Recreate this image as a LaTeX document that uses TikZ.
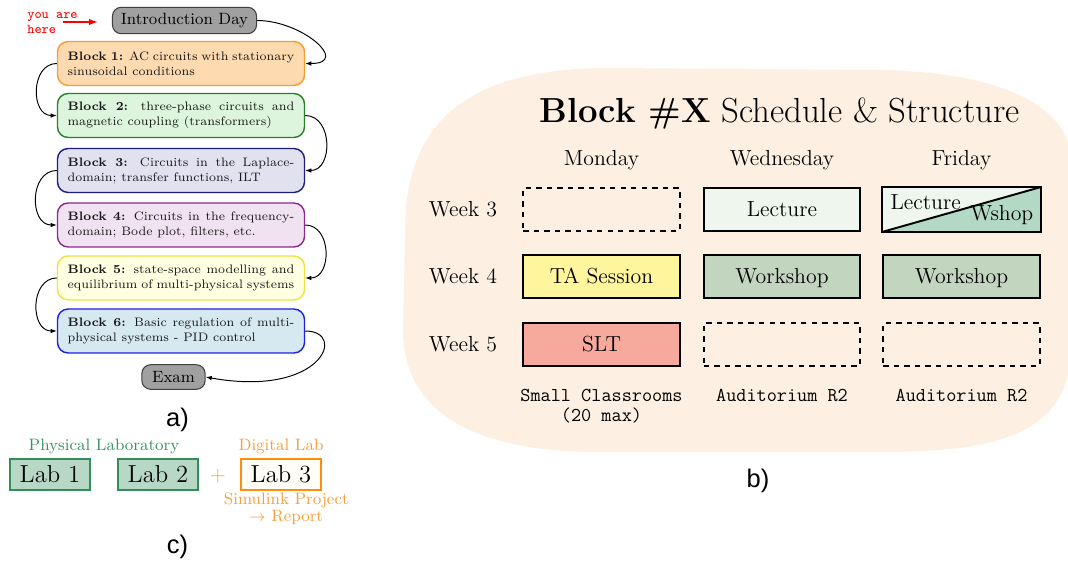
\documentclass[tikz,border=0pt]{standalone}
\usepackage{fontspec}
\newfontfamily\panfont{Liberation Sans}
\usepackage{xcolor}
\usepackage{tikz}
\usetikzlibrary{arrows.meta,positioning}

\definecolor{capgray}{RGB}{160,160,160}
\definecolor{b1fill}{RGB}{253,218,176}
\definecolor{b1line}{RGB}{244,158,48}
\definecolor{b2fill}{RGB}{221,245,221}
\definecolor{b2line}{RGB}{40,128,40}
\definecolor{b3fill}{RGB}{225,225,240}
\definecolor{b3line}{RGB}{30,30,128}
\definecolor{b4fill}{RGB}{241,226,241}
\definecolor{b4line}{RGB}{140,40,140}
\definecolor{b5fill}{RGB}{255,255,226}
\definecolor{b5line}{RGB}{240,224,70}
\definecolor{b6fill}{RGB}{214,232,240}
\definecolor{b6line}{RGB}{30,30,230}
\definecolor{peach}{RGB}{253,240,227}
\definecolor{lecfill}{RGB}{238,246,238}
\definecolor{wsfill}{RGB}{194,213,191}
\definecolor{tafill}{RGB}{255,245,157}
\definecolor{sltfill}{RGB}{248,169,158}
\definecolor{wtri}{RGB}{179,217,196}
\definecolor{labgreen}{RGB}{52,140,90}
\definecolor{labfill}{RGB}{184,216,198}
\definecolor{laborange}{RGB}{255,140,10}
\definecolor{orangetxt}{RGB}{245,160,60}
\definecolor{greentxt}{RGB}{60,145,100}
\definecolor{labivory}{RGB}{255,253,246}

\tikzset{
  blk/.style={draw=#1line,fill=#1fill,line width=0.8pt,rounded corners=6pt,
    text width=129pt,align=justify,inner xsep=5.8pt,minimum height=25pt,
    font=\fontsize{7}{8.5}\selectfont,text=black!90},
  capsule/.style={draw=black!75,fill=capgray,line width=0.6pt,rounded corners=5pt,
    minimum height=14pt,inner xsep=4pt,font=\fontsize{9.3}{11}\selectfont},
  flow/.style={-{Latex[length=3.5pt,width=2.6pt]},line width=0.55pt},
  herearr/.style={red,line width=0.8pt,-{Latex[length=5pt,width=3.6pt]}},
  herelab/.style={text=red,font=\ttfamily\fontsize{7.7}{9}\selectfont,align=left,
    anchor=west,inner sep=0pt},
  cell/.style={draw,line width=1.1pt,minimum width=89pt,minimum height=24.4pt,
    inner sep=0pt,text height=8.6pt,text depth=0.4pt,font=\fontsize{12.4}{14}\selectfont},
  freecell/.style={cell,dashed},
  wklab/.style={font=\fontsize{12.4}{14}\selectfont},
  daylab/.style={font=\fontsize{12.4}{14}\selectfont,anchor=base},
  roomlab/.style={font=\ttfamily\fontsize{11.2}{11.6}\selectfont,align=center,
    anchor=north,inner sep=0pt},
  labbox/.style={draw=labgreen,fill=labfill,line width=1.1pt,minimum width=45.4pt,
    minimum height=17.6pt,inner sep=0pt,font=\fontsize{14}{16}\selectfont},
  smlab/.style={font=\fontsize{9.4}{9.6}\selectfont,inner sep=0pt,align=center},
  panlab/.style={font=\panfont\fontsize{14.5}{16}\selectfont},
}

\begin{document}
\begin{tikzpicture}[x=0.02cm,y=-0.02cm]
  \useasboundingbox (0,0) rectangle (1068,561);

  % a) bloklar ketma-ketligi
  \node[herelab] (here) at (27,23) {you are\\here};
  \coordinate (hereTail) at (63,22);
  \coordinate (hereTip) at (98,22);
  \draw[herearr] (hereTail) -- (hereTip);

  \node[capsule,minimum width=82pt] (intro) at (184.5,20.5) {Introduction Day};
  \node[blk=b1] (b1) at (181,63.5) {\textbf{Block 1:} AC circuits with stationary\linebreak sinusoidal conditions};
  \node[blk=b2] (b2) at (181,115.5) {\textbf{Block 2:} three-phase circuits and\linebreak magnetic coupling (transformers)};
  \node[blk=b3] (b3) at (181,170.5) {\textbf{Block 3:} Circuits in the Laplace-\linebreak domain; transfer functions, ILT};
  \node[blk=b4] (b4) at (181,225) {\textbf{Block 4:} Circuits in the frequency-\linebreak domain; Bode plot, filters, etc.};
  \node[blk=b5] (b5) at (181,278) {\textbf{Block 5:} state-space modelling and\linebreak equilibrium of multi-physical systems};
  \node[blk=b6] (b6) at (181,331) {\textbf{Block 6:} Basic regulation of multi-\linebreak physical systems - PID control};
  \node[capsule,minimum width=36pt] (exam) at (173.5,377) {Exam};

  \draw[flow] (intro.east) to[out=0,in=0,looseness=1.8] (b1.east);
  \foreach \a/\b/\s/\d in {b1/b2/west/180,b2/b3/east/0,b3/b4/west/180,b4/b5/east/0,b5/b6/west/180}
    \draw[flow] (\a.\s) to[out=\d,in=\d,looseness=1.3] (\b.\s);
  \draw[flow] (b6.east) .. controls (348,331) and (322,398) .. (exam.east);

  \node[panlab] (pa) at (177.5,420) {a)};

  % b) jadval
  \fill[peach] (610,68) -- (880,70) .. controls (1000,72) and (1068,105) .. (1072,160)
    -- (1072,340) .. controls (1072,430) and (1010,452) .. (880,452)
    -- (590,452) .. controls (470,450) and (403,410) .. (403,330)
    -- (405,230) .. controls (405,120) and (470,68) .. (610,68) -- cycle;

  \node[anchor=base,font=\fontsize{19.8}{24}\selectfont] (ttl) at (779.5,122)
    {\textbf{Block \#X} Schedule \& Structure};
  \foreach \d/\x in {Monday/601.5,Wednesday/782,Friday/961.5}
    \node[daylab] (d\d) at (\x,165) {\d};
  \foreach \w/\y in {3/209.5,4/276.5,5/344.5}
    \node[wklab] (w\w) at (463,\y) {Week \w};

  \node[freecell] (mo3) at (601.5,209.5) {};
  \node[cell,fill=lecfill] (we3) at (782,209.5) {Lecture};
  \node[cell,draw=none] (fr3) at (961.5,209.5) {};
  \fill[lecfill] (fr3.north west) -- (fr3.north east) -- (fr3.south west) -- cycle;
  \fill[wtri] (fr3.south west) -- (fr3.north east) -- (fr3.south east) -- cycle;
  \draw[line width=1.1pt] (fr3.south west) -- (fr3.north east);
  \draw[line width=1.1pt] (fr3.north west) rectangle (fr3.south east);
  \node[wklab,anchor=north west,inner xsep=4.5pt,inner ysep=4pt] (frL) at (fr3.north west) {Lecture};
  \node[wklab,anchor=south east,inner xsep=4pt,inner ysep=4pt] (frW) at (fr3.south east) {Wshop};

  \node[cell,fill=tafill] (mo4) at (601.5,276.5) {TA Session};
  \node[cell,fill=wsfill] (we4) at (782,276.5) {Workshop};
  \node[cell,fill=wsfill] (fr4) at (961.5,276.5) {Workshop};

  \node[cell,fill=sltfill] (mo5) at (601.5,344.5) {SLT};
  \node[freecell] (we5) at (782,344.5) {};
  \node[freecell] (fr5) at (961.5,344.5) {};

  \node[roomlab] (rmo) at (601.5,389) {Small Classrooms\\(20 max)};
  \node[roomlab] (rwe) at (782,389) {Auditorium R2};
  \node[roomlab] (rfr) at (961.5,389) {Auditorium R2};

  \node[panlab] (pb) at (758,481) {b)};

  % c) laboratoriyalar
  \node[labbox] (lab1) at (50,474.5) {Lab 1};
  \node[labbox] (lab2) at (158,474.5) {Lab 2};
  \node[labbox,draw=laborange,fill=labivory] (lab3) at (281,474.5) {Lab 3};
  \node[smlab,text=orangetxt,font=\fontsize{12}{14}\selectfont] (plus) at (218,476) {+};
  \node[smlab,text=greentxt,anchor=base] (phys) at (104,450) {Physical Laboratory};
  \node[smlab,text=orangetxt,anchor=base] (digi) at (281,450) {Digital Lab};
  \node[smlab,text=orangetxt,below=0.8pt of lab3,xshift=3pt] (simu) {Simulink Project\\$\rightarrow$ Report};

  \node[panlab] (pc) at (177.5,547) {c)};
\end{tikzpicture}
\end{document}
